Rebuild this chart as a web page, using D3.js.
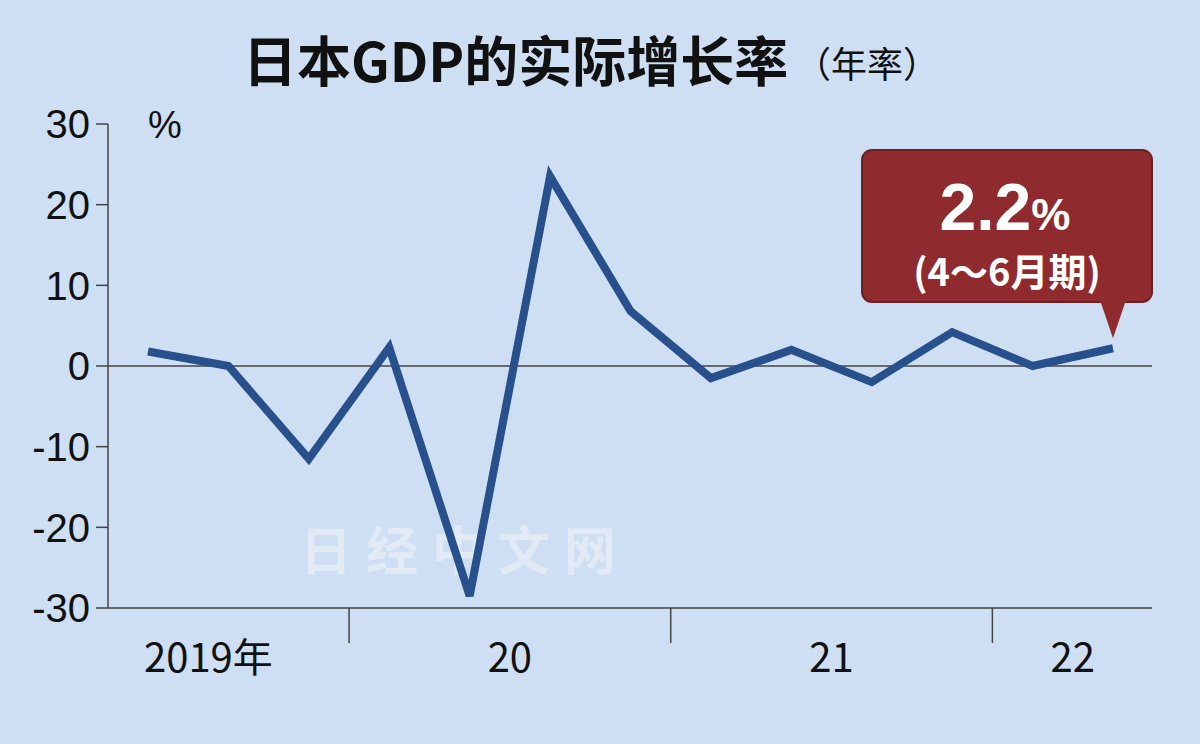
<!DOCTYPE html>
<html><head><meta charset="utf-8">
<script src="https://cdn.jsdelivr.net/npm/d3@7"></script>
<style>body{margin:0;background:#cedff3;}svg{display:block;font-family:"Liberation Sans","Noto Sans CJK SC",sans-serif;}</style>
</head><body><div id="chart"></div>
<script>
const quarters = ["2019Q2","2019Q3","2019Q4","2020Q1","2020Q2","2020Q3","2020Q4","2021Q1","2021Q2","2021Q3","2021Q4","2022Q1","2022Q2"];
const growth = [1.8, 0, -11.5, 2.3, -28.5, 23.5, 6.8, -1.5, 2.0, -2.0, 4.2, 0, 2.2];
const yTicks = [30, 20, 10, 0, -10, -20, -30];
const yearLabels = ["2019年", "20", "21", "22"];
const yearCenters = [1, 4.5, 8.5, 11.5]; // in quarter index units
const yearBreaks = [2.5, 6.5, 10.5];

const width = 1200, height = 744;
const svg = d3.select("#chart").append("svg").attr("width", width).attr("height", height);
svg.append("rect").attr("width", width).attr("height", height).attr("fill", "#cedff3");

const x = d3.scaleLinear().domain([0, 12]).range([148, 1113]);
const y = d3.scaleLinear().domain([-30, 30]).range([608, 124]);
const ink = "#444";

svg.append("text").attr("x", 243).attr("y", 82)
  .style("font-size", "54px").style("font-weight", "bold").attr("fill", "#111")
  .attr("font-family", "Noto Sans CJK SC").text("日本GDP的实际增长率");
svg.append("text").attr("x", 795).attr("y", 78)
  .style("font-size", "36px").attr("fill", "#111").attr("font-family", "Noto Sans CJK SC").text("（年率）");

// axes
svg.append("line").attr("x1", 108).attr("x2", 108).attr("y1", y(30)).attr("y2", y(-30)).attr("stroke", ink).attr("stroke-width", 1.5);
svg.append("line").attr("x1", 108).attr("x2", 1152).attr("y1", y(-30)).attr("y2", y(-30)).attr("stroke", ink).attr("stroke-width", 1.5);
svg.append("line").attr("x1", 108).attr("x2", 1152).attr("y1", y(0)).attr("y2", y(0)).attr("stroke", ink).attr("stroke-width", 1.5);
yTicks.forEach(t => {
  svg.append("line").attr("x1", 108).attr("x2", 96).attr("y1", y(t)).attr("y2", y(t)).attr("stroke", ink).attr("stroke-width", 1.5);
  svg.append("text").attr("x", 90).attr("y", y(t)).attr("dy", "0.36em").attr("text-anchor", "end")
    .style("font-size", "40px").attr("fill", "#111").text(t);
});
svg.append("text").attr("x", 148).attr("y", y(30) + 14).style("font-size", "38px").attr("fill", "#111").text("%");

yearBreaks.forEach(b => {
  const bx = (x(Math.floor(b)) + x(Math.ceil(b))) / 2;
  svg.append("line").attr("x1", bx).attr("x2", bx).attr("y1", y(-30)).attr("y2", y(-30) + 35).attr("stroke", ink).attr("stroke-width", 1.5);
});
yearLabels.forEach((l, i) => {
  svg.append("text").attr("x", x(yearCenters[i]) + (i === 0 ? -20 : 0)).attr("y", 672).attr("text-anchor", "middle")
    .style("font-size", "40px").attr("fill", "#111").attr("font-family", "Noto Sans CJK SC").text(l);
});

// watermark
svg.append("text").attr("x", 300).attr("y", 570).style("font-size", "52px").style("font-weight", "bold")
  .attr("fill", "#e8eef6").attr("opacity", 0.8).attr("letter-spacing", 14).attr("font-family", "Noto Sans CJK SC").text("日经中文网");

svg.append("path").datum(growth)
  .attr("d", d3.line().x((d, i) => x(i)).y(d => y(d)))
  .attr("fill", "none").attr("stroke", "#27508c").attr("stroke-width", 8).attr("stroke-linejoin", "miter");

// callout
const last = growth.length - 1;
const g = svg.append("g");
g.append("rect").attr("x", 862).attr("y", 150).attr("width", 290).attr("height", 152).attr("rx", 10)
  .attr("fill", "#8f2b2f").attr("stroke", "#6e1f22").attr("stroke-width", 2);
g.append("path").attr("d", `M1100,300 L${x(last)},${y(growth[last]) - 10} L1126,300 Z`).attr("fill", "#8f2b2f");
g.append("text").attr("x", 1005).attr("y", 230).attr("text-anchor", "middle").attr("fill", "#fff")
  .style("font-weight", "bold").style("font-size", "66px").text(growth[last].toFixed(1))
  .append("tspan").style("font-size", "44px").text("%");
g.append("text").attr("x", 1007).attr("y", 286).attr("text-anchor", "middle").attr("fill", "#fff")
  .style("font-weight", "bold").style("font-size", "38px").attr("font-family", "Noto Sans CJK SC").text("(4～6月期)");
</script></body></html>
